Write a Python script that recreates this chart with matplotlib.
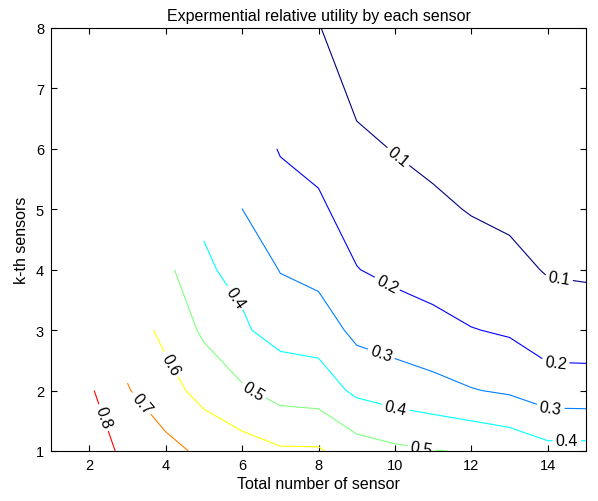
import numpy as np
import matplotlib
matplotlib.use('Agg')
import matplotlib.pyplot as plt

plt.rcParams['font.family'] = ['Liberation Sans', 'DejaVu Sans']

# total number of sensors (x) and k-th sensor (y)
total_sensors = np.arange(1, 16)
kth_sensor = np.arange(1, 9)

# relative utility of the k-th sensor, for n = k .. 15 total sensors
utility_k1 = [1.0, 0.885, 0.76, 0.728, 0.681, 0.6427, 0.612, 0.611, 0.5467, 0.52, 0.503, 0.495, 0.472, 0.4315, 0.432]
utility_k2 = [0.814, 0.706, 0.64, 0.564, 0.513, 0.463, 0.452, 0.38, 0.3533, 0.333, 0.305, 0.287, 0.2463, 0.2434]
utility_k3 = [0.6575, 0.573, 0.484, 0.4118, 0.366, 0.355, 0.2733, 0.2527, 0.2265, 0.204, 0.188, 0.1478, 0.147]
utility_k4 = [0.527, 0.41, 0.38, 0.2958, 0.269, 0.2025, 0.1774, 0.1634, 0.128, 0.125, 0.0935, 0.0875]
utility_k5 = [0.389, 0.3005, 0.24, 0.2123, 0.1668, 0.13, 0.1111, 0.0965, 0.081, 0.075, 0.07]
utility_k6 = [0.261, 0.194, 0.177, 0.1156, 0.097, 0.0847, 0.078, 0.068, 0.063, 0.058]
utility_k7 = [0.16, 0.138, 0.0817, 0.072, 0.068, 0.063, 0.058, 0.054, 0.05]
utility_k8 = [0.103, 0.06, 0.058, 0.055, 0.052, 0.048, 0.045, 0.042]

levels = [0.1, 0.2, 0.3, 0.4, 0.5, 0.6, 0.7, 0.8]
label_positions = [(10.05, 5.84), (14.29, 3.85),
                   (9.79, 3.76), (14.2, 2.47),
                   (9.62, 2.57), (14.07, 1.70),
                   (5.78, 3.52), (10.01, 1.68), (14.5, 1.17),
                   (6.28, 1.97), (10.7, 1.06),
                   (4.08, 2.41), (3.34, 1.77), (2.36, 1.55)]

rows = [utility_k1, utility_k2, utility_k3, utility_k4,
        utility_k5, utility_k6, utility_k7, utility_k8]
Z = np.full((len(kth_sensor), len(total_sensors)), np.nan)
for i, row in enumerate(rows):
    Z[i, len(total_sensors) - len(row):] = row
X, Y = np.meshgrid(total_sensors, kth_sensor)


def matlab_jet(t):
    r = np.clip(1.5 - abs(4 * t - 3), 0, 1)
    g = np.clip(1.5 - abs(4 * t - 2), 0, 1)
    b = np.clip(1.5 - abs(4 * t - 1), 0, 1)
    return (r, g, b)


colors = [matlab_jet((v - 0.1) / 0.8) for v in levels]

fig = plt.figure(figsize=(5.98, 5.02), dpi=100)
ax = fig.add_axes([51 / 598, 50 / 502, 535 / 598, 423 / 502])
cs = ax.contour(X, Y, Z, levels=levels, colors=colors, linewidths=0.8,
                corner_mask=False)
ax.clabel(cs, manual=label_positions, inline=True, fmt='%.1f',
          fontsize=11.5, colors='black', inline_spacing=3)

ax.set_xlim(1, 15)
ax.set_ylim(1, 8)
ax.set_xticks([2, 4, 6, 8, 10, 12, 14])
ax.set_yticks([1, 2, 3, 4, 5, 6, 7, 8])
ax.tick_params(direction='in', length=4, width=0.8, top=True, right=True,
               labelsize=10.5, pad=5)
for s in ax.spines.values():
    s.set_linewidth(0.8)
ax.set_title('Expermential relative utility by each sensor', fontsize=11.5, pad=6)
ax.set_xlabel('Total number of sensor', fontsize=11.5, labelpad=3)
ax.set_ylabel('k-th sensors', fontsize=11.5, labelpad=5)

fig.savefig('out.png', dpi=100)
